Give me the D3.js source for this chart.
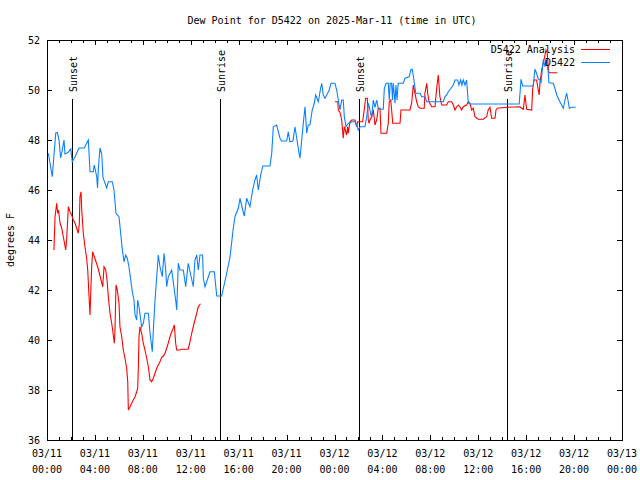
<!DOCTYPE html>
<html><head><meta charset="utf-8">
<script src="https://cdn.jsdelivr.net/npm/d3@7/dist/d3.min.js"></script>
<style>
body{margin:0;background:#fff;}
text{font-family:"DejaVu Sans Mono","Liberation Mono",monospace;font-size:10px;fill:#000;}
</style></head>
<body>
<svg id="chart" width="640" height="480"></svg>
<script>
const title = "Dew Point for D5422 on 2025-Mar-11 (time in UTC)";
const yLabel = "degrees F";
const seriesNames = ["D5422 Analysis", "D5422"];
const seriesColors = ["#ff0000", "#0a80ff"];
const yTicks = [36, 38, 40, 42, 44, 46, 48, 50, 52];
const xTickHours = [0, 4, 8, 12, 16, 20, 24, 28, 32, 36, 40, 44, 48];
const xTickLabels = [["03/11","00:00"],["03/11","04:00"],["03/11","08:00"],["03/11","12:00"],["03/11","16:00"],["03/11","20:00"],["03/12","00:00"],["03/12","04:00"],["03/12","08:00"],["03/12","12:00"],["03/12","16:00"],["03/12","20:00"],["03/13","00:00"]];
const sunEvents = ["Sunset", "Sunrise", "Sunset", "Sunrise"];
const sunHours = [2.11, 14.47, 26.07, 38.42];

// hours since 2025-03-11 00:00 UTC
const blueHours = [0.11,0.44,0.73,0.86,1.0,1.14,1.28,1.42,1.50,1.75,1.98,2.11,2.34,2.67,3.11,3.31,3.45,3.59,3.86,3.95,4.15,4.22,4.28,4.42,4.57,4.67,4.98,5.12,5.45,5.59,5.76,6.01,6.15,6.29,6.43,6.57,6.70,6.84,6.99,7.12,7.26,7.35,7.49,7.57,7.68,7.90,8.04,8.18,8.46,8.60,8.79,8.89,9.02,9.16,9.29,9.43,9.62,9.77,9.91,9.99,10.13,10.41,10.74,10.83,10.96,11.10,11.38,11.58,11.79,12.21,12.35,12.50,12.63,12.77,12.99,13.05,13.19,13.61,13.97,14.17,14.58,15.00,15.28,15.55,15.69,15.97,16.11,16.34,16.47,16.67,16.94,17.17,17.36,17.50,17.64,17.84,18.01,18.61,18.76,18.89,19.17,19.45,19.59,20.01,20.14,20.28,20.53,20.70,21.04,21.12,21.26,21.45,21.54,21.68,21.81,21.95,22.14,22.31,22.43,22.65,22.79,22.93,23.06,23.21,23.35,23.56,23.71,24.04,24.18,24.32,24.46,24.60,24.73,24.82,24.96,25.15,25.29,25.43,25.71,25.85,25.99,26.13,26.54,26.69,26.82,26.96,27.10,27.24,27.38,27.52,27.65,27.80,28.07,28.16,28.30,28.49,28.57,28.65,28.77,28.84,28.91,29.05,29.13,29.22,29.32,29.74,29.88,30.24,30.36,30.49,30.63,30.78,31.14,31.28,31.55,31.70,33.08,33.22,33.36,33.50,33.92,34.06,34.28,34.39,34.53,34.64,34.75,34.89,35.03,35.17,35.31,39.42,39.57,39.71,40.59,40.73,40.87,41.01,41.15,41.24,41.43,41.57,41.65,41.76,41.84,41.90,42.26,42.40,42.55,42.68,42.82,42.96,43.10,43.24,43.38,43.49,43.60,43.80,44.13];
const blueValues = [47.47,46.53,48.28,48.3,48.0,47.28,47.6,48.0,47.44,47.5,47.64,47.13,47.33,47.68,47.68,47.87,48.0,46.73,46.73,47.0,46.53,46.08,46.8,47.68,47.44,46.5,46.08,46.33,46.33,46.0,45.07,44.93,44.27,43.6,43.13,43.4,43.27,42.93,42.4,41.93,41.6,41.0,40.8,41.6,41.33,40.53,40.67,41.07,41.07,40.28,39.53,40.5,41.6,42.53,43.4,42.93,42.53,43.47,42.8,42.13,42.53,42.8,41.6,41.2,43.07,42.8,42.8,42.13,43.07,42.13,43.2,43.4,42.8,43.4,43.4,42.47,42.13,42.73,42.73,41.76,41.76,42.67,43.33,44.47,44.93,45.27,45.67,45.2,44.96,45.67,45.33,46.0,46.4,46.6,46.0,46.6,46.96,46.96,47.47,48.53,48.6,48.07,47.96,47.96,48.33,47.93,47.96,48.53,47.47,47.27,48.0,48.93,49.33,48.27,48.6,48.6,49.2,49.47,49.8,49.53,49.93,50.27,49.8,49.67,49.8,50.0,50.27,50.27,50.0,49.6,49.2,49.6,49.6,48.93,48.53,48.67,48.67,48.73,48.73,48.6,48.4,48.53,48.53,48.93,49.47,49.2,48.87,49.6,49.3,49.6,49.27,49.23,49.23,50.07,50.27,50.27,49.6,50.27,50.27,49.6,50.27,49.47,50.2,49.6,50.27,50.27,50.47,50.53,50.8,50.83,50.4,49.87,49.87,49.73,49.73,49.53,49.53,49.73,49.8,49.93,50.2,50.4,50.4,50.2,50.4,50.2,50.4,50.2,50.4,49.47,49.44,49.44,50.43,50.16,50.16,50.83,50.67,50.43,50.43,50.27,51.23,50.93,51.2,51.0,50.73,50.29,50.27,50.07,49.8,49.67,49.53,49.4,49.27,49.6,49.87,49.6,49.27,49.31,49.31];

// null marks a gap in the analysis series
const redHours = [0.58,0.67,0.81,0.89,0.96,1.09,1.23,1.36,1.44,1.56,1.64,1.78,1.92,2.06,2.20,2.34,2.48,2.61,2.70,2.75,2.84,2.90,3.03,3.17,3.31,3.40,3.51,3.59,3.73,3.81,3.95,4.09,4.23,4.37,4.51,4.65,4.76,4.90,5.01,5.12,5.26,5.40,5.48,5.62,5.68,5.76,5.87,6.01,6.09,6.24,6.37,6.51,6.65,6.74,6.79,6.93,7.07,7.20,7.35,7.49,7.57,7.62,7.68,7.76,7.83,7.90,8.04,8.18,8.32,8.46,8.60,8.74,8.87,9.02,9.16,9.29,9.43,9.57,9.71,9.85,9.99,10.13,10.27,10.41,10.54,10.63,10.74,10.83,11.10,11.24,11.79,11.94,12.08,12.21,12.35,12.50,12.63,12.81,
  18.0,
  24.04,24.27,24.32,24.46,24.60,24.73,24.82,24.90,25.01,25.10,25.15,25.29,25.43,25.71,25.85,25.93,26.35,26.46,26.60,26.74,26.82,26.88,26.96,27.10,27.24,27.38,27.52,27.65,27.80,27.88,28.35,28.49,28.57,28.69,28.77,28.86,29.47,29.55,30.30,30.44,30.58,30.72,30.86,30.99,31.14,31.49,31.55,31.70,31.78,31.89,32.11,32.39,32.53,32.66,32.80,32.95,33.36,33.50,33.78,33.92,34.06,34.20,34.33,34.47,34.61,34.75,35.03,35.17,35.31,35.45,35.58,35.73,35.87,35.99,36.42,36.70,36.83,36.98,37.12,37.40,37.48,37.59,38.37,39.48,39.62,39.76,39.90,40.04,40.46,40.54,40.65,40.87,41.01,41.09,41.15,41.29,41.43,41.57,41.65,41.76,41.84,41.90,42.60];
const redValues = [43.6,44.93,45.47,45.07,45.2,44.67,44.47,44.13,43.93,43.6,44.0,45.33,45.13,45.0,44.8,44.67,44.47,44.27,44.67,45.73,45.93,45.2,44.27,43.73,43.27,42.8,41.73,41.0,42.93,43.53,43.33,43.13,42.93,42.67,42.4,42.13,42.93,42.8,42.4,41.73,41.07,40.67,40.4,39.87,40.47,42.2,42.0,41.47,40.53,40.13,39.6,39.27,38.87,38.33,37.2,37.33,37.47,37.6,37.73,37.93,38.07,38.8,40.13,40.53,40.4,40.27,39.87,39.6,39.27,38.93,38.4,38.33,38.47,38.67,38.87,39.0,39.13,39.31,39.36,39.47,39.67,39.89,40.13,40.33,40.47,40.6,39.87,39.6,39.6,39.63,39.63,39.93,40.27,40.53,40.8,41.07,41.33,41.45,
  null,
  49.53,49.53,49.2,49.1,48.8,48.07,48.53,48.4,48.2,48.53,48.27,48.73,48.8,48.8,48.53,48.73,48.73,49.13,49.67,49.67,48.8,48.67,48.8,48.93,49.2,48.6,48.8,49.27,49.27,48.27,48.27,48.67,49.53,49.6,49.2,48.67,48.67,49.2,49.2,49.47,50.2,49.87,49.53,49.33,49.27,49.27,49.87,50.27,49.87,49.53,49.33,49.33,50.07,50.6,49.73,49.4,49.4,49.53,49.53,49.4,49.2,49.33,49.4,49.33,49.2,49.33,49.4,49.53,49.47,49.2,49.27,48.93,48.87,48.83,48.83,48.93,49.2,49.31,48.87,48.87,49.2,49.27,49.31,49.33,49.27,49.23,49.8,49.23,49.2,50.03,50.4,50.4,50.0,49.8,50.27,50.8,51.07,51.4,51.6,51.47,50.93,50.69,50.69];

const t0 = Date.UTC(2025, 2, 11);
const toDate = h => new Date(t0 + h * 3600000);

const L = 47, R = 622, T = 40, B = 440;
const svg = d3.select("#chart");
const x = d3.scaleUtc().domain([toDate(0), toDate(48)]).range([L, R]);
const y = d3.scaleLinear().domain([36, 52]).range([B, T]);

// title
svg.append("text").attr("x", 332).attr("y", 20).attr("text-anchor", "middle")
  .attr("dominant-baseline", "central").text(title);
// y label
svg.append("text").attr("transform", "translate(10,240) rotate(-90)")
  .attr("text-anchor", "middle").attr("dominant-baseline", "central").text(yLabel);

const g = svg.append("g").attr("shape-rendering", "crispEdges");

// axes with inward ticks on all four sides
const majorX = xTickHours.map(toDate);
const minorX = d3.range(0, 49).filter(h => h % 4 !== 0).map(toDate);
g.append("g").attr("transform", `translate(0,${B})`)
  .call(d3.axisBottom(x).tickValues(majorX).tickSizeInner(-5).tickSizeOuter(0).tickFormat(""));
g.append("g").attr("transform", `translate(0,${B})`)
  .call(d3.axisBottom(x).tickValues(minorX).tickSizeInner(-3).tickSizeOuter(0).tickFormat(""));
g.append("g").attr("transform", `translate(0,${T})`)
  .call(d3.axisTop(x).tickValues(majorX).tickSizeInner(-5).tickSizeOuter(0).tickFormat(""));
g.append("g").attr("transform", `translate(0,${T})`)
  .call(d3.axisTop(x).tickValues(minorX).tickSizeInner(-3).tickSizeOuter(0).tickFormat(""));
g.append("g").attr("transform", `translate(${L},0)`)
  .call(d3.axisLeft(y).tickValues(yTicks).tickSizeInner(-5).tickSizeOuter(0).tickFormat(""));
g.append("g").attr("transform", `translate(${R},0)`)
  .call(d3.axisRight(y).tickValues(yTicks).tickSizeInner(-5).tickSizeOuter(0).tickFormat(""));
g.selectAll(".domain").remove();
g.selectAll(".tick line").attr("stroke", "#000");

// x tick labels (two lines)
xTickHours.forEach((h, i) => {
  const t = svg.append("text").attr("x", x(toDate(h))).attr("text-anchor", "middle");
  t.append("tspan").attr("x", x(toDate(h))).attr("y", 457).text(xTickLabels[i][0]);
  t.append("tspan").attr("x", x(toDate(h))).attr("y", 473).text(xTickLabels[i][1]);
});
// y tick labels
yTicks.forEach(v => {
  svg.append("text").attr("x", 40).attr("y", y(v)).attr("text-anchor", "end")
    .attr("dominant-baseline", "central").text(v);
});

// sun event lines
sunHours.forEach((h, i) => {
  const px = Math.round(x(toDate(h))) + 0.5;
  g.append("line").attr("x1", px).attr("x2", px).attr("y1", 99).attr("y2", B).attr("stroke", "#000");
  svg.append("text").attr("transform", `translate(${px + 1},92) rotate(-90)`)
    .attr("text-anchor", "start").attr("dominant-baseline", "central").text(sunEvents[i]);
});

// data lines
const redData = redHours.map((h, i) => ({ t: toDate(h), v: redValues[i] }));
const blueData = blueHours.map((h, i) => ({ t: toDate(h), v: blueValues[i] }));
const line = d3.line().defined(d => d.v !== null).x(d => x(d.t)).y(d => y(d.v));
svg.append("path").datum(redData).attr("d", line).attr("fill", "none")
  .attr("stroke", seriesColors[0]).attr("stroke-width", 1.1);
svg.append("path").datum(blueData).attr("d", line).attr("fill", "none")
  .attr("stroke", seriesColors[1]).attr("stroke-width", 1.1);

// border
g.append("rect").attr("x", L + 0.5).attr("y", T + 0.5).attr("width", R - L).attr("height", B - T)
  .attr("fill", "none").attr("stroke", "#000");

// legend
const legendY = [49, 62];
seriesNames.forEach((n, i) => {
  svg.append("text").attr("x", 575).attr("y", legendY[i]).attr("text-anchor", "end")
    .attr("dominant-baseline", "central").text(n);
  g.append("line").attr("x1", 581).attr("x2", 610).attr("y1", legendY[i] + 0.5).attr("y2", legendY[i] + 0.5)
    .attr("stroke", seriesColors[i]);
});
</script>
</body></html>
